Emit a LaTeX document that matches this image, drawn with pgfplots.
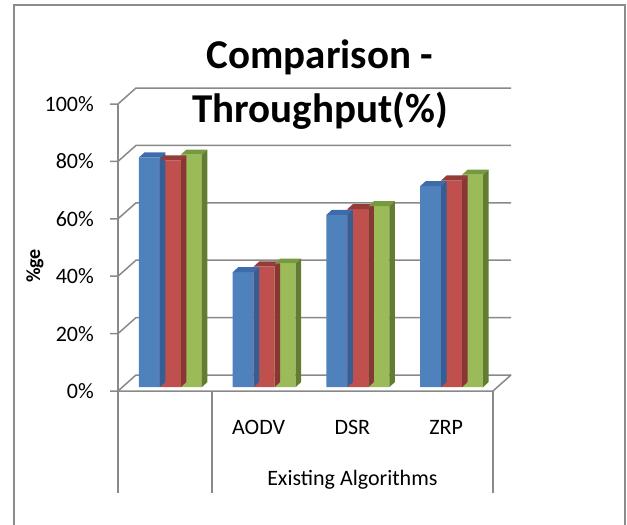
\documentclass[border=0pt]{standalone}
\usepackage{pgfplots}
\pgfplotsset{compat=1.18}
\usepackage{fontspec}
\setmainfont{Carlito}

\definecolor{barblue}{HTML}{4F81BD}
\definecolor{barred}{HTML}{C0504D}
\definecolor{bargreen}{HTML}{9BBB59}
\definecolor{topblue}{HTML}{3E6CAB}
\definecolor{topred}{HTML}{933C3A}
\definecolor{topgreen}{HTML}{789A3E}
\definecolor{sideblue}{HTML}{365E94}
\definecolor{sidered}{HTML}{8A3634}
\definecolor{sidegreen}{HTML}{627C32}
\definecolor{gridgray}{HTML}{898989}
\definecolor{framegray}{HTML}{8C8C8C}

% depth of a bar (oblique extrusion) and vertical scale in pt per percent
\def\dpx{5.5}
\def\dpy{5}
\def\yunit{2.87}

% top face of a bar: #2 = left edge offset from the group centre, #3 = bar width
\newcommand\declaretopface[3]{%
  \pgfdeclareplotmark{#1}{%
    \pgfpathmoveto{\pgfpoint{#2pt}{0pt}}%
    \pgfpathlineto{\pgfpoint{#2pt+#3pt}{0pt}}%
    \pgfpathlineto{\pgfpoint{#2pt+#3pt+\dpx pt}{\dpy pt}}%
    \pgfpathlineto{\pgfpoint{#2pt+\dpx pt}{\dpy pt}}%
    \pgfpathclose\pgfusepathqfill}}
% right side face of a bar: #2 = right edge offset, height taken from the value
\newcommand\declaresideface[2]{%
  \pgfdeclareplotmark{#1}{%
    \pgfmathsetmacro\barh{\barval*\yunit}%
    \pgfpathmoveto{\pgfpoint{#2pt}{0pt}}%
    \pgfpathlineto{\pgfpoint{#2pt+\dpx pt}{\dpy pt}}%
    \pgfpathlineto{\pgfpoint{#2pt+\dpx pt}{\dpy pt-\barh pt}}%
    \pgfpathlineto{\pgfpoint{#2pt}{-\barh pt}}%
    \pgfpathclose\pgfusepathqfill}}
\declaretopface{topA}{-31.5}{21}
\declaretopface{topB}{-10.5}{21}
\declaretopface{topC}{10.5}{21}
\declaresideface{sideA}{-10.5}
\declaresideface{sideB}{10.5}
\declaresideface{sideC}{31.5}

\pgfplotstableread{
x    A   B   C
0.5  80  79  81
1.5  40  42  43
2.5  60  62  63
3.5  70  72  74
}\throughput

\begin{document}
\begin{tikzpicture}[x=1pt,y=1pt]
\path[use as bounding box] (0,0) rectangle (627,-525);
% chart frame
\draw[framegray, line width=2pt] (14,-540) -- (14,-5) -- (625,-5) -- (625,-540);

% titles
\node[anchor=base, inner sep=0pt, font=\fontsize{41}{49}\selectfont\bfseries] at (320,-68) {Comparison -};
\node[anchor=base, inner sep=0pt, font=\fontsize{41}{49}\selectfont\bfseries] at (320,-122) {Throughput(\%)};
\node[rotate=90, inner sep=0pt, font=\fontsize{20}{24}\selectfont\bfseries] at (35,-266) {\%ge};

% walls, floor and axes
\begin{axis}[
  at={(118pt,-391pt)}, anchor=south west,
  scale only axis, width=375pt, height=287pt,
  xmin=0, xmax=4, ymin=0, ymax=100,
  clip=false,
  axis line style={draw=none},
  major tick length=0pt,
  ytick={0,20,40,60,80,100},
  yticklabels={0\%,20\%,40\%,60\%,80\%,100\%},
  yticklabel style={anchor=east, inner sep=0pt, xshift=-24pt, font=\fontsize{22}{26}\selectfont},
  xtick={1.5,2.5,3.5},
  xticklabels={AODV,DSR,ZRP},
  xticklabel style={anchor=base, inner sep=0pt, yshift=-43pt, font=\fontsize{22}{26}\selectfont},
  /pgf/number format/assume math mode=true,
]
\pgfplotsinvokeforeach{0,20,40,60,80,100}{
  \draw[gridgray, line width=1.5pt] ([xshift=-8pt]axis cs:0,#1) -- (axis cs:0,#1) -- ++(18pt,16pt) -- ++(375pt,0);
}
\draw[gridgray, line width=1.5pt] (axis cs:0,0) -- (axis cs:4,0) -- ++(18pt,16pt);
\draw[gridgray, line width=1.5pt] (axis cs:0,100) -- (axis cs:0,0) -- ++(0,-102pt);
\draw[gridgray, line width=1.5pt] (axis cs:1,0) -- ++(0,-102pt);
\draw[gridgray, line width=1.5pt] (axis cs:4,0) -- ++(0,-102pt);
\node[anchor=base, inner sep=0pt, font=\fontsize{22}{26}\selectfont] at ([yshift=-94pt]axis cs:2.5,0) {Existing Algorithms};
\end{axis}

% bars, set a little behind the front edge of the floor
\begin{axis}[
  at={(123.6pt,-387pt)}, anchor=south west,
  scale only axis, width=375pt, height=287pt,
  xmin=0, xmax=4, ymin=0, ymax=100,
  clip=false, hide axis,
  bar width=21pt,
  visualization depends on={rawy \as \barval},
]
\addplot[ybar, bar shift=-21pt, fill=barblue, draw=none] table[x=x, y=A] {\throughput};
\addplot[only marks, mark=topA, color=topblue] table[x=x, y=A] {\throughput};
\addplot[only marks, mark=sideA, color=sideblue] table[x=x, y=A] {\throughput};
\addplot[ybar, bar shift=0pt, fill=barred, draw=none] table[x=x, y=B] {\throughput};
\addplot[only marks, mark=topB, color=topred] table[x=x, y=B] {\throughput};
\addplot[only marks, mark=sideB, color=sidered] table[x=x, y=B] {\throughput};
\addplot[ybar, bar shift=21pt, fill=bargreen, draw=none] table[x=x, y=C] {\throughput};
\addplot[only marks, mark=topC, color=topgreen] table[x=x, y=C] {\throughput};
\addplot[only marks, mark=sideC, color=sidegreen] table[x=x, y=C] {\throughput};
\end{axis}
\end{tikzpicture}
\end{document}
